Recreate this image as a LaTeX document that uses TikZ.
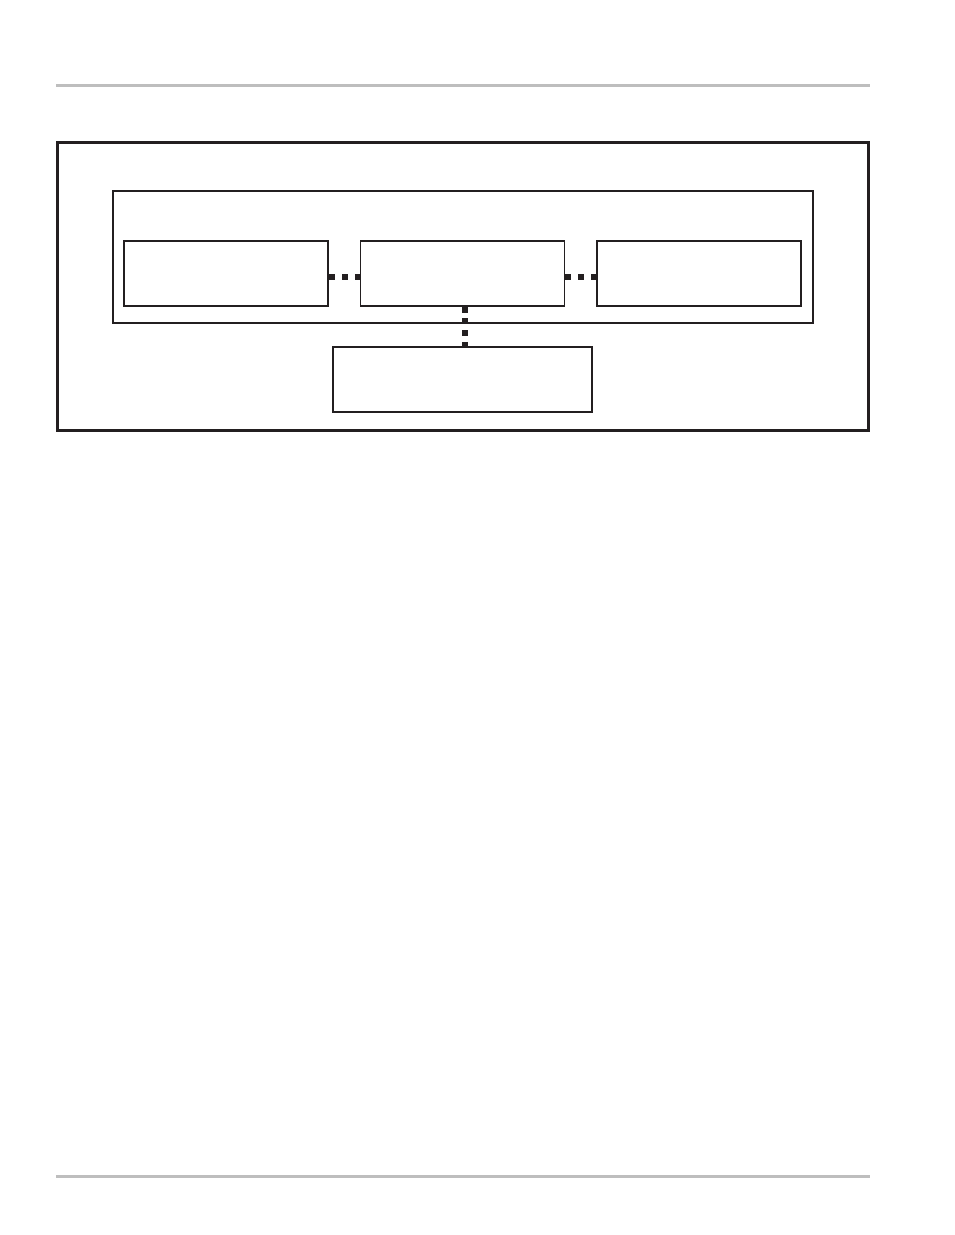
\documentclass[tikz,border=0pt]{standalone}
\usepackage{tikz}
\usetikzlibrary{positioning}
\usepackage{xcolor}
\definecolor{ink}{HTML}{231F20}
\definecolor{rulegray}{HTML}{BEBEBE}

\tikzset{
    unitbox/.style={rectangle,draw=ink,line width=1.6pt,inner sep=0pt,minimum width=204pt,minimum height=65pt},
    dotlink/.style={draw=ink,line width=6pt,dash pattern=on 6pt off 7pt},
    dotlinkv/.style={draw=ink,line width=6pt,dash pattern=on 6pt off 5.67pt}
}

\begin{document}
\begin{tikzpicture}[x=1pt,y=-1pt]
            \useasboundingbox [fill=white] (0,0) rectangle (954,1235);

            % page rules
            \draw [rulegray, line width=3pt] (56,85) -- (870,85);
            \draw [rulegray, line width=3pt] (56,1176) -- (870,1176);

            \node [rectangle,draw=ink,line width=3pt,inner sep=0pt,minimum width=811pt,minimum height=288pt] (outer) at (463,286) {};
            \node [rectangle,draw=ink,line width=1.8pt,inner sep=0pt,minimum width=700pt,minimum height=132pt] (frame) at (463,257) {};

            \node [unitbox] (left) at (226,273.5) {};
            \node [unitbox] (middle) at (462.5,273.5) {};
            \node [unitbox] (right) at (699,273.5) {};
            \node [unitbox,minimum width=259pt] (bottom) at (462.5,379.5) {};

            \draw [dotlink] (left.east |- 0,277) -- (middle.west |- 0,277);
            \draw [dotlink] (middle.east |- 0,277) -- (right.west |- 0,277);
            \draw [dotlinkv] (middle.south -| 465,0) -- (bottom.north -| 465,0);
        \end{tikzpicture}
\end{document}
